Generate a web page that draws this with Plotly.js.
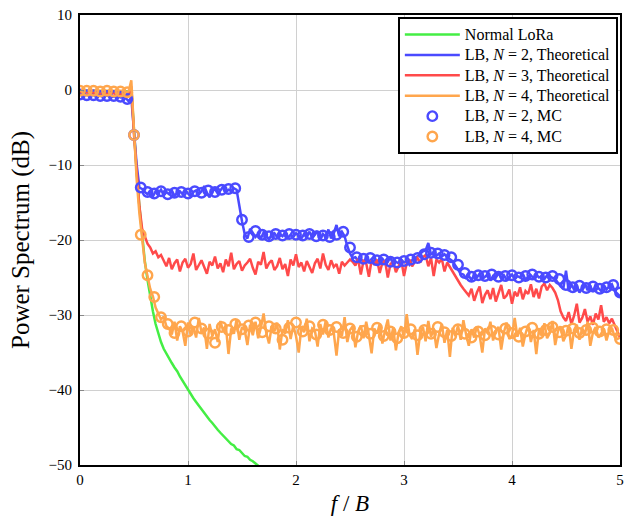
<!DOCTYPE html>
<html>
<head>
<meta charset="utf-8">
<script src="https://cdn.plot.ly/plotly-3.0.1.min.js"></script>
<style>html,body{margin:0;padding:0;background:#fff;}#chart{width:625px;height:518px;}</style>
</head>
<body>
<div id="chart"></div>
<script>
// Frequency step of theoretical curves (f/B) and of Monte-Carlo points
const theoStep = 0.025;
const mcStep = 0.0625;

// Normal LoRa (sampled every 0.025 from 0)
const normalLoRa = [-0.1,-0.1,-0.1,-0.1,-0.1,-0.1,-0.1,-0.1,-0.1,-0.1,-0.1,-0.1,-0.1,-0.1,-0.1,-0.1,-0.1,-0.2,-0.2,
  0.3,-6.0,-11.0,-15.5,-19.5,-22.8,-25.3,-27.5,-29.5,-31.2,-32.5,-33.6,-34.5,-35.2,-35.8,-36.4,-37.0,
  -37.5,-38.2,-38.8,-39.4,-40.0,-40.5,-41.1,-41.6,-42.1,-42.6,-43.1,-43.5,-44.0,-44.4,-44.9,-45.3,
  -45.7,-46.1,-46.5,-46.8,-47.2,-47.4,-47.9,-48.0,-48.4,-48.8,-48.9,-49.3,-49.5,-49.8,-50.1,-50.4];

// LB, N = 2, Theoretical
const lbN2Theo = [-0.5,-0.6,-0.7,-0.7,-0.6,-0.7,-0.8,-0.7,-0.7,-0.8,-0.7,-0.8,-0.9,-0.8,-0.8,-1.0,-0.9,-1.1,-1.5,
  -1.0,-6.0,-10.0,-13.0,
  -13.2,-13.6,-13.9,-13.4,-14.2,-13.5,-13.8,-13.3,-14.0,-13.6,-13.9,-13.4,-14.1,-13.7,-13.5,-13.9,-13.3,-13.8,-14.2,-13.6,
  -13.4,-13.9,-13.5,-12.8,-13.7,-14.3,-13.5,-13.2,-13.8,-13.4,-12.9,-13.6,-13.3,-13.5,-13.1,
  -13.3,-15.5,-17.5,-19.2,-19.8,-18.5,
  -19.1,-19.6,-19.2,-19.8,-19.0,-19.4,-19.9,-19.3,-19.1,-19.6,-19.2,-19.5,-19.0,-19.7,-19.3,-19.6,-19.1,-19.4,-19.8,-19.2,
  -19.5,-18.9,-19.7,-19.3,-18.8,-20.0,-19.2,-19.6,-18.6,-19.8,-19.1,-18.0,-19.5,
  -18.9,-19.5,-20.8,-21.8,-22.4,
  -22.3,-22.8,-22.5,-23.0,-22.4,-22.9,-22.6,-22.2,-23.1,-22.7,-22.5,-23.0,-22.8,-22.4,-23.2,-22.9,-23.1,-22.6,-23.0,-22.8,
  -23.3,-22.7,-22.5,-22.2,-21.9,-21.5,
  -21.4,-20.4,-21.9,-21.7,-22.1,-21.8,-22.2,-21.9,-22.3,-22.5,
  -22.8,-23.4,-24.0,-24.5,
  -24.6,-25.1,-24.8,-25.3,-24.7,-25.0,-24.5,-25.2,-24.9,-24.6,-25.4,-24.8,-25.0,-24.4,-25.1,-24.7,-25.3,-24.9,-24.6,-25.2,
  -24.8,-25.0,-24.5,-25.3,-24.9,-24.7,-25.1,-24.6,-25.0,-24.8,-25.2,-24.7,-24.9,-25.0,
  -25.2,-25.7,-26.2,
  -26.5,-24.1,-26.8,-25.9,-26.6,-26.1,-27.0,-26.3,-25.8,-26.7,-26.2,-26.9,-25.9,-26.4,-26.8,-26.0,-26.6,-26.2,-25.9,-26.8,
  -27.1,-27.5];

// LB, N = 3, Theoretical
const lbN3Theo = [-0.3,-0.3,-0.4,-0.3,-0.4,-0.4,-0.3,-0.4,-0.5,-0.4,-0.4,-0.5,-0.4,-0.5,-0.5,-0.6,-0.5,-0.6,-0.8,
  0.5,-6.0,-11.0,-15.5,-18.5,-19.5,-20.5,-21.0,-21.8,-21.5,-22.3,-22.0,
  -22.8,-23.5,-22.4,-23.9,-23.1,-22.6,-24.2,-23.0,-22.5,-23.7,
  -23.2,-21.8,-24.0,-23.3,-22.7,-23.6,-24.5,-22.9,-23.4,-22.2,
  -23.8,-23.1,-24.3,-22.6,-23.5,-21.7,-23.9,-23.2,-22.8,-24.1,
  -23.4,-23.0,-22.5,-23.7,-24.6,-22.9,-23.3,-21.6,-23.8,-23.1,
  -22.7,-24.0,-23.5,-22.4,-23.9,-23.2,-24.8,-22.6,-23.4,-21.9,
  -23.6,-23.0,-24.2,-22.8,-23.5,-24.4,-23.1,-22.5,-23.8,-21.8,
  -23.3,-24.0,-22.7,-23.6,-23.2,-24.5,-22.9,-23.4,-23.0,
  -22.6,-22.9,-23.4,-22.5,-24.6,-22.8,-23.1,-24.9,-22.7,-23.3,
  -22.6,-24.4,-23.0,-22.8,-25.0,-23.2,-22.9,-24.3,-23.4,-22.7,
  -24.8,-23.1,-22.6,-23.5,-22.9,-22.4,-23.0,-22.3,
  -22.0,-23.5,-22.4,-24.8,-22.6,-23.0,-22.5,-24.2,-23.0,-23.6,
  -24.2,-24.8,-25.5,-26.0,-26.5,-27.0,
  -27.4,-26.5,-28.1,-27.0,-26.2,-28.4,-27.3,-26.7,-27.9,-26.4,
  -28.2,-27.1,-26.0,-27.8,-27.4,-26.6,-28.5,-26.9,-27.5,-26.3,
  -27.9,-26.8,-27.2,-25.9,-27.6,-26.5,-27.8,-26.2,-25.8,-26.7,
  -26.0,-26.4,-27.0,
  -28.0,-29.5,-30.3,
  -30.8,-29.6,-31.2,-30.1,-28.5,-31.0,-30.4,-29.2,-30.9,-30.2,
  -31.3,-29.8,-30.6,-28.7,-30.9,-30.3,-31.1,-30.5,-31.4,-32.2,-33.0];

// LB, N = 4, Theoretical
const lbN4Theo = [-0.1,-0.1,-0.2,-0.1,-0.1,-0.2,-0.1,-0.2,-0.1,-0.1,-0.2,-0.1,-0.2,-0.1,-0.2,-0.2,-0.1,-0.3,-0.2,
  1.3,-6.0,-12.0,-16.5,-19.5,-23.0,-24.8,-26.5,-27.5,-29.0,-29.8,-30.6,-30.2,-31.5,
  -31.8,-32.6,-30.9,-33.4,-31.5,-32.2,-34.1,-31.0,-32.7,-31.6,
  -33.0,-30.4,-32.3,-31.7,-34.5,-31.2,-32.8,-31.9,-33.6,-30.8,
  -32.1,-31.4,-35.2,-31.8,-32.5,-30.6,-33.3,-31.6,-32.0,-34.0,
  -31.3,-32.7,-30.9,-33.1,-31.7,-29.8,-32.4,-33.8,-31.5,-32.2,
  -31.0,-34.6,-31.9,-32.5,-30.7,-33.2,-31.4,-32.8,-35.0,-31.6,
  -32.3,-30.5,-33.5,-31.8,-32.1,-34.2,-31.2,-32.6,-30.8,-33.0,
  -31.7,-32.4,-35.4,-31.9,-32.8,-30.3,-33.6,-32.0,-31.5,-34.3,
  -32.2,-31.4,-33.1,-30.9,-32.7,-35.1,-31.8,-32.5,-31.2,-33.8,
  -32.0,-30.6,-33.4,-31.7,-34.7,-32.3,-31.5,-33.0,-29.9,-32.6,
  -33.2,-31.9,-35.3,-32.4,-31.6,-33.5,-30.8,-32.9,-31.8,-34.4,
  -32.5,-31.2,-33.7,-32.0,-35.6,-31.7,-32.8,-31.4,-33.3,-30.7,
  -32.6,-34.1,-31.9,-33.0,-31.5,-32.7,-35.0,-31.8,-32.4,-30.9,
  -33.4,-32.1,-31.6,-34.6,-32.3,-31.0,-33.2,-32.7,-30.4,-32.9,
  -31.7,-34.2,-32.5,-31.3,-33.6,-32.0,-35.2,-31.9,-32.8,-31.1,
  -33.1,-32.4,-30.8,-34.0,-32.2,-31.5,-33.5,-32.7,-31.4,-34.5,
  -32.0,-31.3,-33.3,-31.8,-32.6,-30.9,-34.1,-32.3,-31.6,-33.0,
  -32.5,-31.8,-33.4,-32.1,-31.7,-32.9,-33.2,-33.0];

// LB, N = 2, MC (every 0.0625 from 0)
const lbN2MC = [-0.6,-0.7,-0.7,-0.8,-0.8,-0.8,-0.9,-1.2,-6.0,-13.0,
  -13.6,-13.8,-13.5,-13.9,-13.7,-13.6,-13.8,-13.5,-13.7,-13.4,
  -13.6,-13.3,-13.2,-13.1,-17.3,-19.6,-18.8,-19.3,-19.5,-19.2,
  -19.4,-19.2,-19.3,-19.4,-19.2,-19.5,-19.4,-19.6,-19.3,-18.9,
  -21.0,-22.3,-22.5,-22.4,-22.7,-22.6,-22.9,-23.0,-22.8,-22.6,
  -22.4,-21.9,-21.7,-21.8,-22.0,-22.3,-23.3,-24.4,-24.9,-24.7,
  -24.8,-24.6,-24.9,-24.8,-24.7,-25.0,-24.8,-24.6,-24.9,-25.0,
  -24.8,-25.2,-26.0,-26.3,-26.1,-26.4,-26.2,-26.5,-26.3,-26.0,-27.0];

// LB, N = 4, MC (every 0.0625 from 0)
const lbN4MC = [-0.1,-0.1,-0.1,-0.2,-0.1,-0.2,-0.2,-0.3,-6.0,-19.3,
  -24.7,-27.6,-30.3,-31.2,-32.4,-31.5,-32.2,-31.0,-31.8,-32.5,
  -33.7,-31.6,-32.0,-31.2,-31.9,-31.4,-31.0,-32.3,-31.5,-31.8,
  -33.3,-31.7,-31.0,-32.2,-31.5,-32.6,-31.3,-32.0,-31.6,-32.4,
  -31.8,-32.9,-32.1,-32.5,-31.7,-32.8,-32.2,-33.1,-32.4,-31.9,
  -32.7,-32.0,-32.5,-31.6,-32.3,-32.8,-31.9,-32.5,-33.0,-32.2,
  -32.7,-32.1,-32.6,-31.8,-32.4,-32.9,-32.2,-31.7,-32.5,-32.0,
  -31.6,-32.3,-32.1,-31.8,-32.4,-32.0,-31.7,-32.2,-31.9,-32.0,-33.2];

const xTicks = [0, 1, 2, 3, 4, 5];
const yTicks = [-50, -40, -30, -20, -10, 0, 10];

const seriesNames = ['Normal LoRa', 'LB, <i>N</i> = 2, Theoretical', 'LB, <i>N</i> = 3, Theoretical',
  'LB, <i>N</i> = 4, Theoretical', 'LB, <i>N</i> = 2, MC', 'LB, <i>N</i> = 4, MC'];

const serif = '"Liberation Serif", "Times New Roman", serif';
const cGreen = '#44ee44', cBlue = '#4a4aff', cRed = '#ff4a4a', cOrange = '#ffa64d';

function legendName(s) { return '<span style="font-size:16px">' + s + '</span>'; }

function theo(y, name, color) {
  return {type: 'scatter', mode: 'lines', x0: 0, dx: theoStep, y: y, name: legendName(name),
          line: {color: color, width: 2.5}};
}
function mc(y, name, color) {
  return {type: 'scatter', mode: 'markers', x0: 0, dx: mcStep, y: y, name: legendName(name),
          marker: {symbol: 'circle-open', size: 9.5, color: color, line: {width: 2.4, color: color}}};
}

const data = [
  theo(normalLoRa, seriesNames[0], cGreen),
  theo(lbN2Theo, seriesNames[1], cBlue),
  theo(lbN3Theo, seriesNames[2], cRed),
  theo(lbN4Theo, seriesNames[3], cOrange),
  mc(lbN2MC, seriesNames[4], cBlue),
  mc(lbN4MC, seriesNames[5], cOrange)
];

const layout = {
  width: 625, height: 518,
  margin: {l: 80, r: 5, t: 15, b: 53},
  paper_bgcolor: '#fff', plot_bgcolor: '#fff',
  font: {family: serif, size: 15, color: '#000'},
  showlegend: true,
  legend: {x: 0.996, y: 0.995, xanchor: 'right', yanchor: 'top',
           bgcolor: '#fff', bordercolor: '#000', borderwidth: 2, itemwidth: 55,
           font: {family: serif, size: 13.4, color: '#000'}, tracegroupgap: 0},
  xaxis: {range: [0, 5], tickvals: xTicks, ticktext: xTicks.map(String), ticklabeloverflow: 'allow',
          showgrid: true, gridcolor: '#d0d0d0', gridwidth: 1, zeroline: false,
          showline: true, linecolor: '#000', linewidth: 2, mirror: true,
          ticks: 'inside', ticklen: 4, tickcolor: '#888', tickfont: {family: serif, size: 15},
          title: {text: '<i>f</i> / <i>B</i>', font: {family: serif, size: 23}, standoff: 8}},
  yaxis: {range: [-50, 10], tickvals: yTicks,
          showgrid: true, gridcolor: '#d0d0d0', gridwidth: 1, zeroline: false,
          showline: true, linecolor: '#000', linewidth: 2, mirror: true, ticklabelstandoff: 3,
          ticks: 'inside', ticklen: 4, tickcolor: '#888', tickfont: {family: serif, size: 15},
          title: {text: 'Power Spectrum (dB)', font: {family: serif, size: 25}, standoff: 12}}
};

Plotly.newPlot('chart', data, layout, {staticPlot: true, displayModeBar: false});
</script>
</body>
</html>
